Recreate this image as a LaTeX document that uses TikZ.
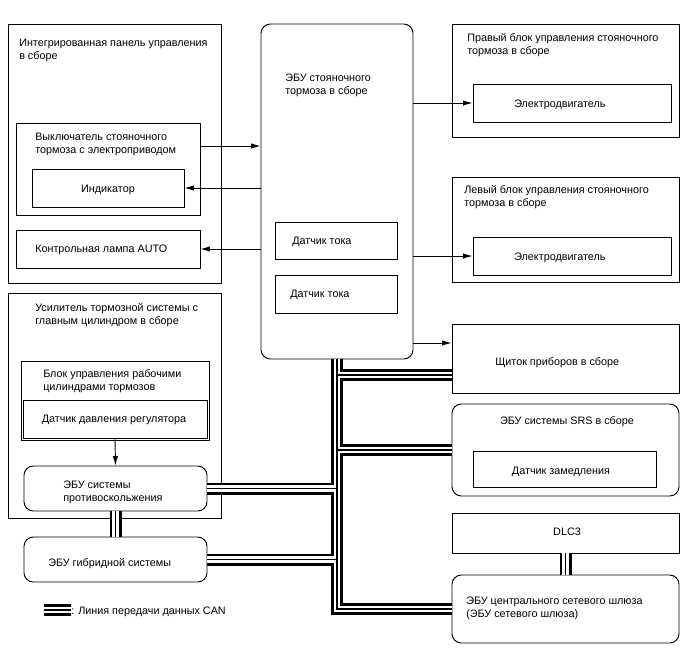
\documentclass[tikz,border=0pt]{standalone}
\usepackage{fontspec}
\setmainfont{Liberation Sans}
\usetikzlibrary{fit,arrows.meta}

\tikzset{
  box/.style={draw, line width=0.7pt, inner sep=0pt},
  rbox/.style={box, rounded corners=7pt},
  txt/.style={align=left, inner sep=0pt, yshift=-1.6pt},
  arr/.style={line width=0.7pt, -{Latex[length=7pt,width=4pt]}},
}

\begin{document}
\begin{tikzpicture}[x=0.75pt, y=-0.75pt, font=\fontsize{8.1}{9.8}\selectfont]
      \useasboundingbox (0,0) rectangle (688,658);
      \node[box, fit={(8,24) (221,283)}] (panel) {};
      \node[txt, anchor=west] at (19,48) {Интегрированная панель управления\\в сборе};
      \node[box, fit={(16,123) (200,215)}] (switch) {};
      \node[txt, anchor=west] at (35,142) {Выключатель стояночного\\тормоза с электроприводом};
      \node[box, fit={(32,169) (184,207)}] (indic) {};
      \node[txt] at (indic.center) {Индикатор};
      \node[box, fit={(16,230) (200,268)}] (lamp) {};
      \node[txt, anchor=west] at (35,248) {Контрольная лампа AUTO};

      \node[rbox, fit={(261,24) (413,359)}] (pkbecu) {};
      \node[txt, anchor=west] at (285,83) {ЭБУ стояночного\\тормоза в сборе};
      \node[box, fit={(275,222) (397,259)}] (cur1) {};
      \node[txt, anchor=west] at (292,240) {Датчик тока};
      \node[box, fit={(275,275) (397,313)}] (cur2) {};
      \node[txt, anchor=west] at (290,293) {Датчик тока};

      \node[box, fit={(452,24) (679,137)}] (rblock) {};
      \node[txt, anchor=west] at (467,43) {Правый блок управления стояночного\\тормоза в сборе};
      \node[box, fit={(473,84) (671,122)}] (rmotor) {};
      \node[txt, anchor=west] at (514,103) {Электродвигатель};
      \node[box, fit={(452,177) (679,282)}] (lblock) {};
      \node[txt, anchor=west] at (464,195) {Левый блок управления стояночного\\тормоза в сборе};
      \node[box, fit={(473,237) (671,275)}] (lmotor) {};
      \node[txt, anchor=west] at (514,256) {Электродвигатель};

      \node[box, fit={(452,324) (679,393)}] (meter) {};
      \node[txt, anchor=west] at (495,361) {Щиток приборов в сборе};
      \node[rbox, fit={(452,404) (679,496)}] (srs) {};
      \node[txt] at (567,420) {ЭБУ системы SRS в сборе};
      \node[box, fit={(473,451) (656,487)}] (decel) {};
      \node[txt] at (561,470) {Датчик замедления};
      \node[box, fit={(452,513) (679,553)}] (dlc) {};
      \node[txt] at (567,530) {DLC3};
      \node[rbox, fit={(452,575) (679,643)}] (gw) {};
      \node[txt, anchor=west] at (466,606) {ЭБУ центрального сетевого шлюза\\(ЭБУ сетевого шлюза)};

      \node[box, fit={(8,293) (221,518)}] (booster) {};
      \node[txt, anchor=west] at (35,313) {Усилитель тормозной системы с\\главным цилиндром в сборе};
      \node[box, fit={(21,361) (209,440)}] (actu) {};
      \node[txt, anchor=west] at (43,379) {Блок управления рабочими\\цилиндрами тормозов};
      \node[box, fit={(23,400) (207,438)}] (press) {};
      \node[txt] at (114,418) {Датчик давления регулятора};
      \node[rbox, fit={(24,466) (207,511)}] (abs) {};
      \node[txt, anchor=west] at (63,490) {ЭБУ системы\\противоскольжения};
      \node[rbox, fit={(24,537) (207,582)}] (hv) {};
      \node[txt, anchor=west] at (48,561) {ЭБУ гибридной системы};

      % signal lines
      \coordinate (swrow) at (0,146);
      \coordinate (mtrow) at (0,343);
      \draw[arr] (switch.east |- swrow) -- (pkbecu.west |- swrow);
      \draw[arr] (pkbecu.west |- indic.east) -- (indic.east);
      \draw[arr] (pkbecu.west |- lamp.east) -- (lamp.east);
      \draw[arr] (pkbecu.east |- rmotor.west) -- (rmotor.west);
      \draw[arr] (pkbecu.east |- lmotor.west) -- (lmotor.west);
      \draw[arr] (pkbecu.east |- mtrow) -- (meter.west |- mtrow);
      \draw[arr] (press.south) -- (abs.north);

      % CAN lines
      \coordinate (canrow) at (0,375);
      \coordinate (lgA) at (44,610);
      \coordinate (lgB) at (71,610);
      \foreach \w/\c in {9pt/black, 5pt/white, 0.9pt/black}{
        \draw[line width=\w, \c] (pkbecu.south) -- (pkbecu.south |- gw.west) -- (gw.west);
        \draw[line width=\w, \c] (meter.west |- canrow) -- (pkbecu.south |- canrow);
        \draw[line width=\w, \c] (srs.west) -- (pkbecu.south |- srs.west);
        \draw[line width=\w, \c] (abs.east) -- (pkbecu.south |- abs.east);
        \draw[line width=\w, \c] (hv.east) -- (pkbecu.south |- hv.east);
        \draw[line width=\w, \c] (abs.south) -- (hv.north);
        \draw[line width=\w, \c] (dlc.south) -- (gw.north);
        \draw[line width=\w, \c] (lgA) -- (lgB);
      }
      \node[txt, anchor=west] at (lgB) {: Линия передачи данных CAN};
\end{tikzpicture}
\end{document}
